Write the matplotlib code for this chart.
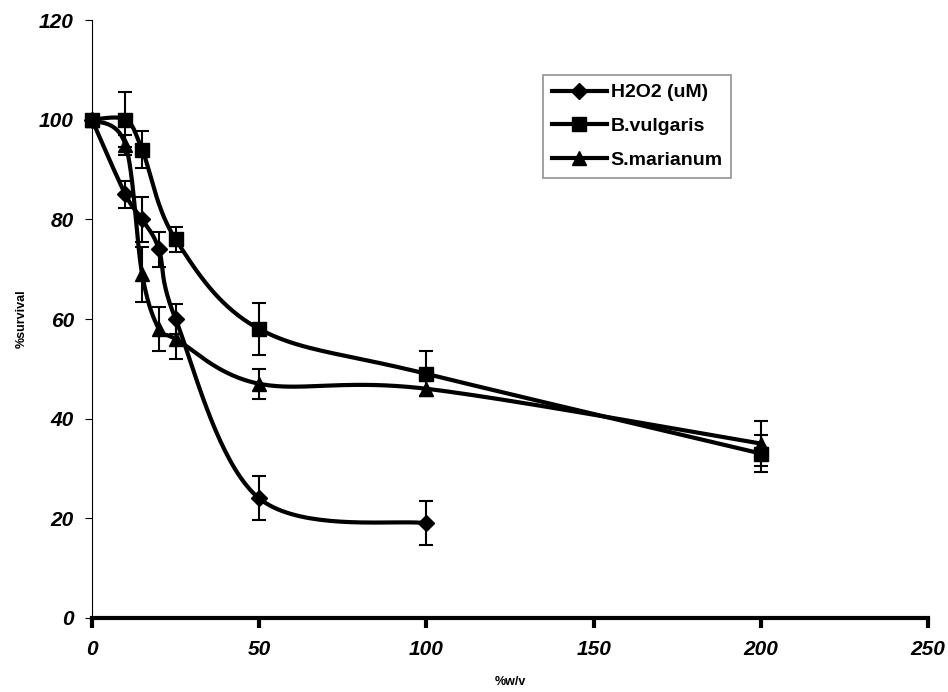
import numpy as np
import matplotlib
matplotlib.use('Agg')
import matplotlib.pyplot as plt
from matplotlib.lines import Line2D

# 数据
h2o2_x = [0, 10, 15, 20, 25, 50, 100]
h2o2_y = [100, 85, 80, 74, 60, 24, 19]
h2o2_err = [0, 2.7, 4.5, 3.5, 3.0, 4.4, 4.4]

bv_x = [0, 10, 15, 25, 50, 100, 200]
bv_y = [100, 100, 94, 76, 58, 49, 33]
bv_err = [0, 5.5, 3.7, 2.5, 5.2, 4.5, 3.8]

sm_x = [0, 10, 15, 20, 25, 50, 100, 200]
sm_y = [100, 95, 69, 58, 56, 47, 46, 35]
sm_err = [0, 2.0, 5.5, 4.5, 4.0, 3.0, 1.5, 4.6]

labels = ['H2O2 (uM)', 'B.vulgaris', 'S.marianum']
xticks = [0, 50, 100, 150, 200, 250]
yticks = [0, 20, 40, 60, 80, 100, 120]

# 像素比例（用于Excel风格平滑曲线）
SX = 836 / 250
SY = 598 / 120


def smooth_line(x, y, n=40):
    """Excel风格的Bezier平滑线"""
    p = np.column_stack([np.asarray(x, float) * SX, np.asarray(y, float) * SY])
    out = []
    for i in range(len(p) - 1):
        p0 = p[i - 1] if i > 0 else p[i]
        p1, p2 = p[i], p[i + 1]
        p3 = p[i + 2] if i + 2 < len(p) else p[i + 1]
        c1 = p1 + (p2 - p0) / 6
        c2 = p2 - (p3 - p1) / 6
        t = np.linspace(0, 1, n)[:, None]
        seg = ((1 - t) ** 3) * p1 + 3 * ((1 - t) ** 2) * t * c1 \
            + 3 * (1 - t) * t ** 2 * c2 + t ** 3 * p2
        out.append(seg)
    out = np.vstack(out)
    return out[:, 0] / SX, out[:, 1] / SY


fig = plt.figure(figsize=(9.48, 6.92), dpi=100)
ax = fig.add_axes([0.097, 0.107, 0.882, 0.864])

series = [
    (h2o2_x, h2o2_y, h2o2_err, 'D', 8),
    (bv_x, bv_y, bv_err, 's', 10),
    (sm_x, sm_y, sm_err, '^', 10),
]

for x, y, err, mk, ms in series:
    sx, sy = smooth_line(x, y)
    ax.plot(sx, sy, color='black', lw=3, zorder=3, clip_on=False,
            solid_capstyle='round')
    ax.errorbar(x, y, yerr=err, fmt='none', ecolor='black', elinewidth=1.5,
                capsize=5, capthick=1.5, zorder=2, clip_on=False)
    ax.plot(x, y, ls='none', marker=mk, ms=ms, color='black', zorder=4,
            clip_on=False)

# 坐标轴
ax.set_xlim(0, 250)
ax.set_ylim(0, 120)
ax.set_xticks(xticks)
ax.set_yticks(yticks)
ax.spines['top'].set_visible(False)
ax.spines['right'].set_visible(False)
ax.spines['bottom'].set_linewidth(3)
ax.spines['left'].set_linewidth(0.8)
ax.tick_params(axis='x', direction='out', length=7, width=3, pad=9)
ax.tick_params(axis='y', direction='out', length=5, width=0.8, pad=8)

tick_font = dict(family='Liberation Sans', weight='bold', style='italic', size=15)
ax.set_xticklabels([str(v) for v in xticks], fontdict=tick_font)
ax.set_yticklabels([str(v) for v in yticks], fontdict=tick_font)

lab_font = dict(family='Liberation Sans', weight='bold', size=9)
ax.set_xlabel('%w/v', fontdict=lab_font, labelpad=12)
ax.set_ylabel('%survival', fontdict=lab_font, labelpad=8)

# 图例
handles = [
    Line2D([], [], color='black', lw=3, marker='D', ms=8),
    Line2D([], [], color='black', lw=3, marker='s', ms=10),
    Line2D([], [], color='black', lw=3, marker='^', ms=10),
]
leg = ax.legend(handles, labels, loc='upper left',
                bbox_to_anchor=(0.54, 0.908), frameon=True, fancybox=False,
                edgecolor='#777777', handlelength=2.8, handletextpad=0.2,
                labelspacing=0.83, borderpad=0.45, borderaxespad=0,
                prop=dict(family='Liberation Sans', weight='bold', size=14))
leg.get_frame().set_linewidth(1.2)

plt.savefig('out.png', dpi=100)
plt.close()
